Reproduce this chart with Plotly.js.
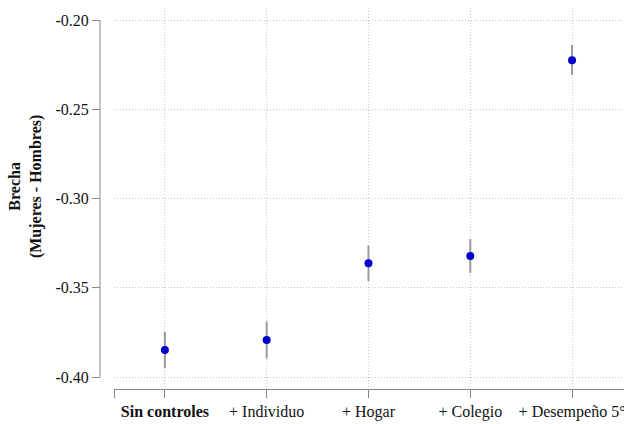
<!DOCTYPE html>
<html>
<head>
<meta charset="utf-8">
<script src="https://cdn.plot.ly/plotly-3.0.1.min.js"></script>
<style>
html,body{margin:0;padding:0;background:#fff;}
#chart{width:624px;height:424px;}
#chart text{font-family:'Liberation Serif','Times New Roman',serif !important;}
</style>
</head>
<body>
<div id="chart"></div>
<script>
const categories = ['<b>Sin controles</b>', '+ Individuo', '+ Hogar', '+ Colegio', '+ Desempeño 5°'];
const positions = [0, 1, 2, 3, 4];
const brecha = [-0.3849, -0.3793, -0.3363, -0.3322, -0.2226];
const ciLower = [-0.3950, -0.3895, -0.3462, -0.3416, -0.2308];
const ciUpper = [-0.3746, -0.3690, -0.3264, -0.3227, -0.2140];
const yTickVals = [-0.40, -0.35, -0.30, -0.25, -0.20];
const yTickText = ['-0.40', '-0.35', '-0.30', '-0.25', '-0.20'];

const SERIF = 'Liberation Serif';

const trace = {
  x: positions,
  y: brecha,
  type: 'scatter',
  mode: 'markers',
  marker: {color: '#0000cc', size: 8},
  error_y: {
    type: 'data',
    symmetric: false,
    array: brecha.map((v, i) => ciUpper[i] - v),
    arrayminus: brecha.map((v, i) => v - ciLower[i]),
    color: '#9a9a9a',
    thickness: 2,
    width: 0
  },
  hoverinfo: 'skip'
};

const layout = {
  width: 624,
  height: 424,
  margin: {l: 100, r: 0, t: 8, b: 35},
  paper_bgcolor: '#fff',
  plot_bgcolor: '#fff',
  showlegend: false,
  font: {family: SERIF, size: 16},
  xaxis: {
    domain: [14/524, 1],
    range: [-0.5, 4.51],
    tickvals: [-0.5].concat(positions),
    ticktext: [''].concat(categories),
    ticklabeloverflow: 'allow',
    showline: true,
    linecolor: '#888',
    linewidth: 1,
    ticks: 'outside',
    ticklen: 8,
    tickcolor: '#888',
    showgrid: true,
    gridcolor: '#c8c8c8',
    griddash: '1px,2px',
    zeroline: false,
    tickfont: {family: SERIF, size: 16, color: '#111'}
  },
  yaxis: {
    anchor: 'free',
    position: 0,
    range: [-0.40672, -0.19328],
    tickvals: yTickVals,
    ticktext: yTickText,
    showline: false,
    ticks: 'outside',
    ticklen: 8,
    tickcolor: '#888',
    showgrid: true,
    gridcolor: '#c8c8c8',
    griddash: '1px,2px',
    zeroline: false,
    tickfont: {family: SERIF, size: 16, color: '#111'}
  },
  shapes: [{
    type: 'line', xref: 'paper', yref: 'y',
    x0: 0, x1: 0, y0: -0.40, y1: -0.20,
    line: {color: '#888', width: 1}
  }],
  annotations: [{
    xref: 'paper', yref: 'paper',
    x: -75/524, y: 0.53,
    xanchor: 'center', yanchor: 'middle',
    textangle: -90,
    showarrow: false,
    text: '<b>Brecha</b><br><b>(Mujeres - Hombres)</b>',
    font: {family: SERIF, size: 16, color: '#111'}
  }]
};

Plotly.newPlot('chart', [trace], layout, {displayModeBar: false});
</script>
</body>
</html>
